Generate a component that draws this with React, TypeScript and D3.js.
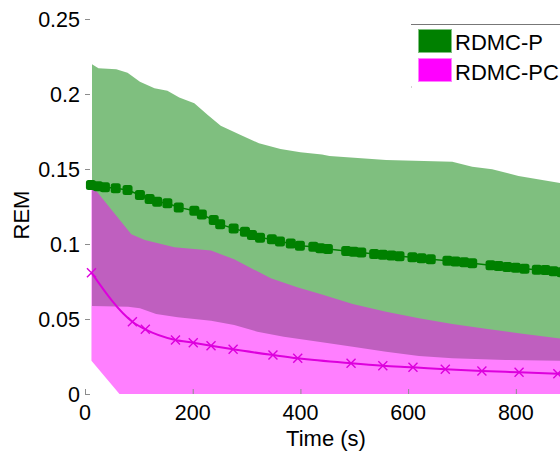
import React from "react";
import * as d3 from "d3";

// Band limits and mean curves (time in seconds, REM values)
const greenUpperT = [13, 25, 58, 79, 102, 129, 153, 175, 203, 228, 252, 289, 323, 363, 400, 440, 454, 559, 682, 719, 756, 805, 885];
const greenUpperV = [0.2198, 0.2171, 0.2165, 0.2142, 0.2082, 0.2038, 0.2022, 0.1976, 0.1938, 0.186, 0.1789, 0.1727, 0.1671, 0.1633, 0.1611, 0.1597, 0.1587, 0.156, 0.1549, 0.1515, 0.1498, 0.1453, 0.1405];

const greenLowerT = [13, 80, 102, 132, 172, 234, 277, 320, 369, 440, 497, 559, 620, 682, 780, 885];
const greenLowerV = [0.0587, 0.0582, 0.0571, 0.0533, 0.0511, 0.0489, 0.046, 0.0415, 0.0382, 0.0345, 0.0315, 0.0282, 0.0253, 0.0238, 0.0227, 0.0222];

const magentaUpperT = [12, 86, 111, 166, 234, 277, 345, 394, 440, 497, 559, 620, 682, 744, 805, 885];
const magentaUpperV = [0.1393, 0.1065, 0.1027, 0.0978, 0.0956, 0.0898, 0.0771, 0.0711, 0.0663, 0.06, 0.0549, 0.0505, 0.0467, 0.0435, 0.0405, 0.0369];

const magentaLowerT = [12, 64, 885];
const magentaLowerV = [0.0222, 0, 0];

const greenMeanT = [11, 24, 37, 57, 79, 102, 120, 134, 153, 174, 203, 217, 239, 251, 276, 297, 310, 325, 347, 362, 382, 399, 424, 437, 451, 485, 499, 513, 537, 553, 569, 584, 608, 625, 642, 673, 688, 704, 719, 753, 768, 784, 800, 816, 839, 855, 870, 885];
const greenMeanV = [0.1393, 0.1385, 0.1378, 0.1371, 0.136, 0.1327, 0.13, 0.1282, 0.1271, 0.1244, 0.1222, 0.1196, 0.116, 0.1131, 0.1104, 0.1082, 0.106, 0.1042, 0.1031, 0.1016, 0.1004, 0.0989, 0.0982, 0.0971, 0.0966, 0.0953, 0.0948, 0.0943, 0.0934, 0.0929, 0.0924, 0.0919, 0.0911, 0.0905, 0.0899, 0.0889, 0.0884, 0.0879, 0.0871, 0.0859, 0.0853, 0.0847, 0.0841, 0.0835, 0.0828, 0.0827, 0.0818, 0.0812];

const magentaMeanT = [12, 88, 112, 168, 201, 234, 275, 349, 395, 494, 553, 609, 669, 737, 806, 878, 890];
const magentaMeanV = [0.0809, 0.0482, 0.0431, 0.036, 0.0342, 0.0322, 0.0298, 0.026, 0.0238, 0.0205, 0.0189, 0.0178, 0.0165, 0.0153, 0.0145, 0.0135, 0.0133];
const magentaMarkerCount = 16;

const xTicks = [0, 200, 400, 600, 800];
const yTicks = [0, 0.05, 0.1, 0.15, 0.2, 0.25];
const yTickLabels = ["0", "0.05", "0.1", "0.15", "0.2", "0.25"];
const seriesNames = ["RDMC-P", "RDMC-PC"];

const W = 560;
const H = 451;
const FONT = "'Liberation Sans', Arial, Helvetica, sans-serif";

const x = d3.scaleLinear().domain([0, 882]).range([85, 560]);
const y = d3.scaleLinear().domain([0, 0.25]).range([394, 19]);

const zip = (t: number[], v: number[]) => t.map((ti, i) => [ti, v[i]] as [number, number]);

const bandPath = (ut: number[], uv: number[], lt: number[], lv: number[]) => {
  const pts = [...zip(ut, uv), ...zip(lt, lv).reverse()];
  const line = d3.line<[number, number]>().x((d) => x(d[0])).y((d) => y(d[1]));
  return line(pts) + "Z";
};

export default function App() {
  const greenBand = bandPath(greenUpperT, greenUpperV, greenLowerT, greenLowerV);
  const magentaBand = bandPath(magentaUpperT, magentaUpperV, magentaLowerT, magentaLowerV);

  const greenPts = zip(greenMeanT, greenMeanV);
  const magentaPts = zip(magentaMeanT, magentaMeanV);

  const greenLine = d3.line<[number, number]>().x((d) => x(d[0])).y((d) => y(d[1]))(greenPts) || "";
  const magentaLine =
    d3
      .line<[number, number]>()
      .x((d) => x(d[0]))
      .y((d) => y(d[1]))
      .curve(d3.curveMonotoneX)(magentaPts) || "";

  const tickColor = "#8c8c8c";
  const ms = 10;
  const xs = 4.5;

  return (
    <svg width={W} height={H} style={{ position: "absolute", left: 0, top: 0, background: "#fff" }}>
      <defs>
        <clipPath id="plotArea">
          <rect x={85} y={0} width={W - 85} height={394} />
        </clipPath>
      </defs>

      <g clipPath="url(#plotArea)">
        <path d={greenBand} fill="rgb(0,128,0)" fillOpacity={0.5} />
        <path d={magentaBand} fill="rgb(255,0,255)" fillOpacity={0.5} />

        <path d={greenLine} fill="none" stroke="rgb(0,128,0)" strokeWidth={1.5} />
        {greenPts.map((d, i) => (
          <rect
            key={"g" + i}
            x={x(d[0]) - ms / 2}
            y={y(d[1]) - ms / 2}
            width={ms}
            height={ms}
            rx={2.5}
            fill="rgb(0,128,0)"
          />
        ))}

        <path d={magentaLine} fill="none" stroke="#dd00dd" strokeWidth={2} />
        {magentaPts.slice(0, magentaMarkerCount).map((d, i) => {
          const cx = x(d[0]);
          const cy = y(d[1]);
          return (
            <path
              key={"m" + i}
              d={`M${cx - xs},${cy - xs}L${cx + xs},${cy + xs}M${cx - xs},${cy + xs}L${cx + xs},${cy - xs}`}
              stroke="#dd00dd"
              strokeWidth={1.4}
              fill="none"
            />
          );
        })}
      </g>

      {/* inward ticks */}
      {yTicks.map((v, i) => (
        <line key={"yt" + i} x1={85} x2={90} y1={y(v) + 0.5} y2={y(v) + 0.5} stroke={tickColor} strokeWidth={1} />
      ))}
      {xTicks.map((t, i) => (
        <line key={"xt" + i} x1={x(t) + 0.5} x2={x(t) + 0.5} y1={389} y2={394} stroke={tickColor} strokeWidth={1} />
      ))}

      {/* tick labels */}
      {yTicks.map((v, i) => (
        <text
          key={"yl" + i}
          x={80}
          y={y(v)}
          dy="0.36em"
          textAnchor="end"
          fontFamily={FONT}
          fontSize={21.5}
          fill="#000"
        >
          {yTickLabels[i]}
        </text>
      ))}
      {xTicks.map((t, i) => (
        <text key={"xl" + i} x={x(t)} y={420} textAnchor="middle" fontFamily={FONT} fontSize={21.5} fill="#000">
          {String(t)}
        </text>
      ))}

      {/* axis titles */}
      <text x={326} y={446} textAnchor="middle" fontFamily={FONT} fontSize={22} fill="#000">
        Time (s)
      </text>
      <text
        transform="translate(29,215) rotate(-90)"
        textAnchor="middle"
        fontFamily={FONT}
        fontSize={22}
        fill="#000"
      >
        REM
      </text>

      {/* legend */}
      <line x1={411} x2={W} y1={24.5} y2={24.5} stroke="#777" strokeWidth={1} />
      <rect x={411} y={86.5} width={1} height={1} fill="#aaa" />
      <rect x={418.5} y={29.5} width={33} height={23} fill="rgb(0,128,0)" stroke="#80c080" strokeWidth={1} />
      <rect x={418.5} y={58.5} width={33} height={23} fill="rgb(255,0,255)" stroke="#ff80ff" strokeWidth={1} />
      <text x={455} y={49.5} fontFamily={FONT} fontSize={22} fill="#000">
        {seriesNames[0]}
      </text>
      <text x={455} y={79.5} fontFamily={FONT} fontSize={22} fill="#000">
        {seriesNames[1]}
      </text>
    </svg>
  );
}
